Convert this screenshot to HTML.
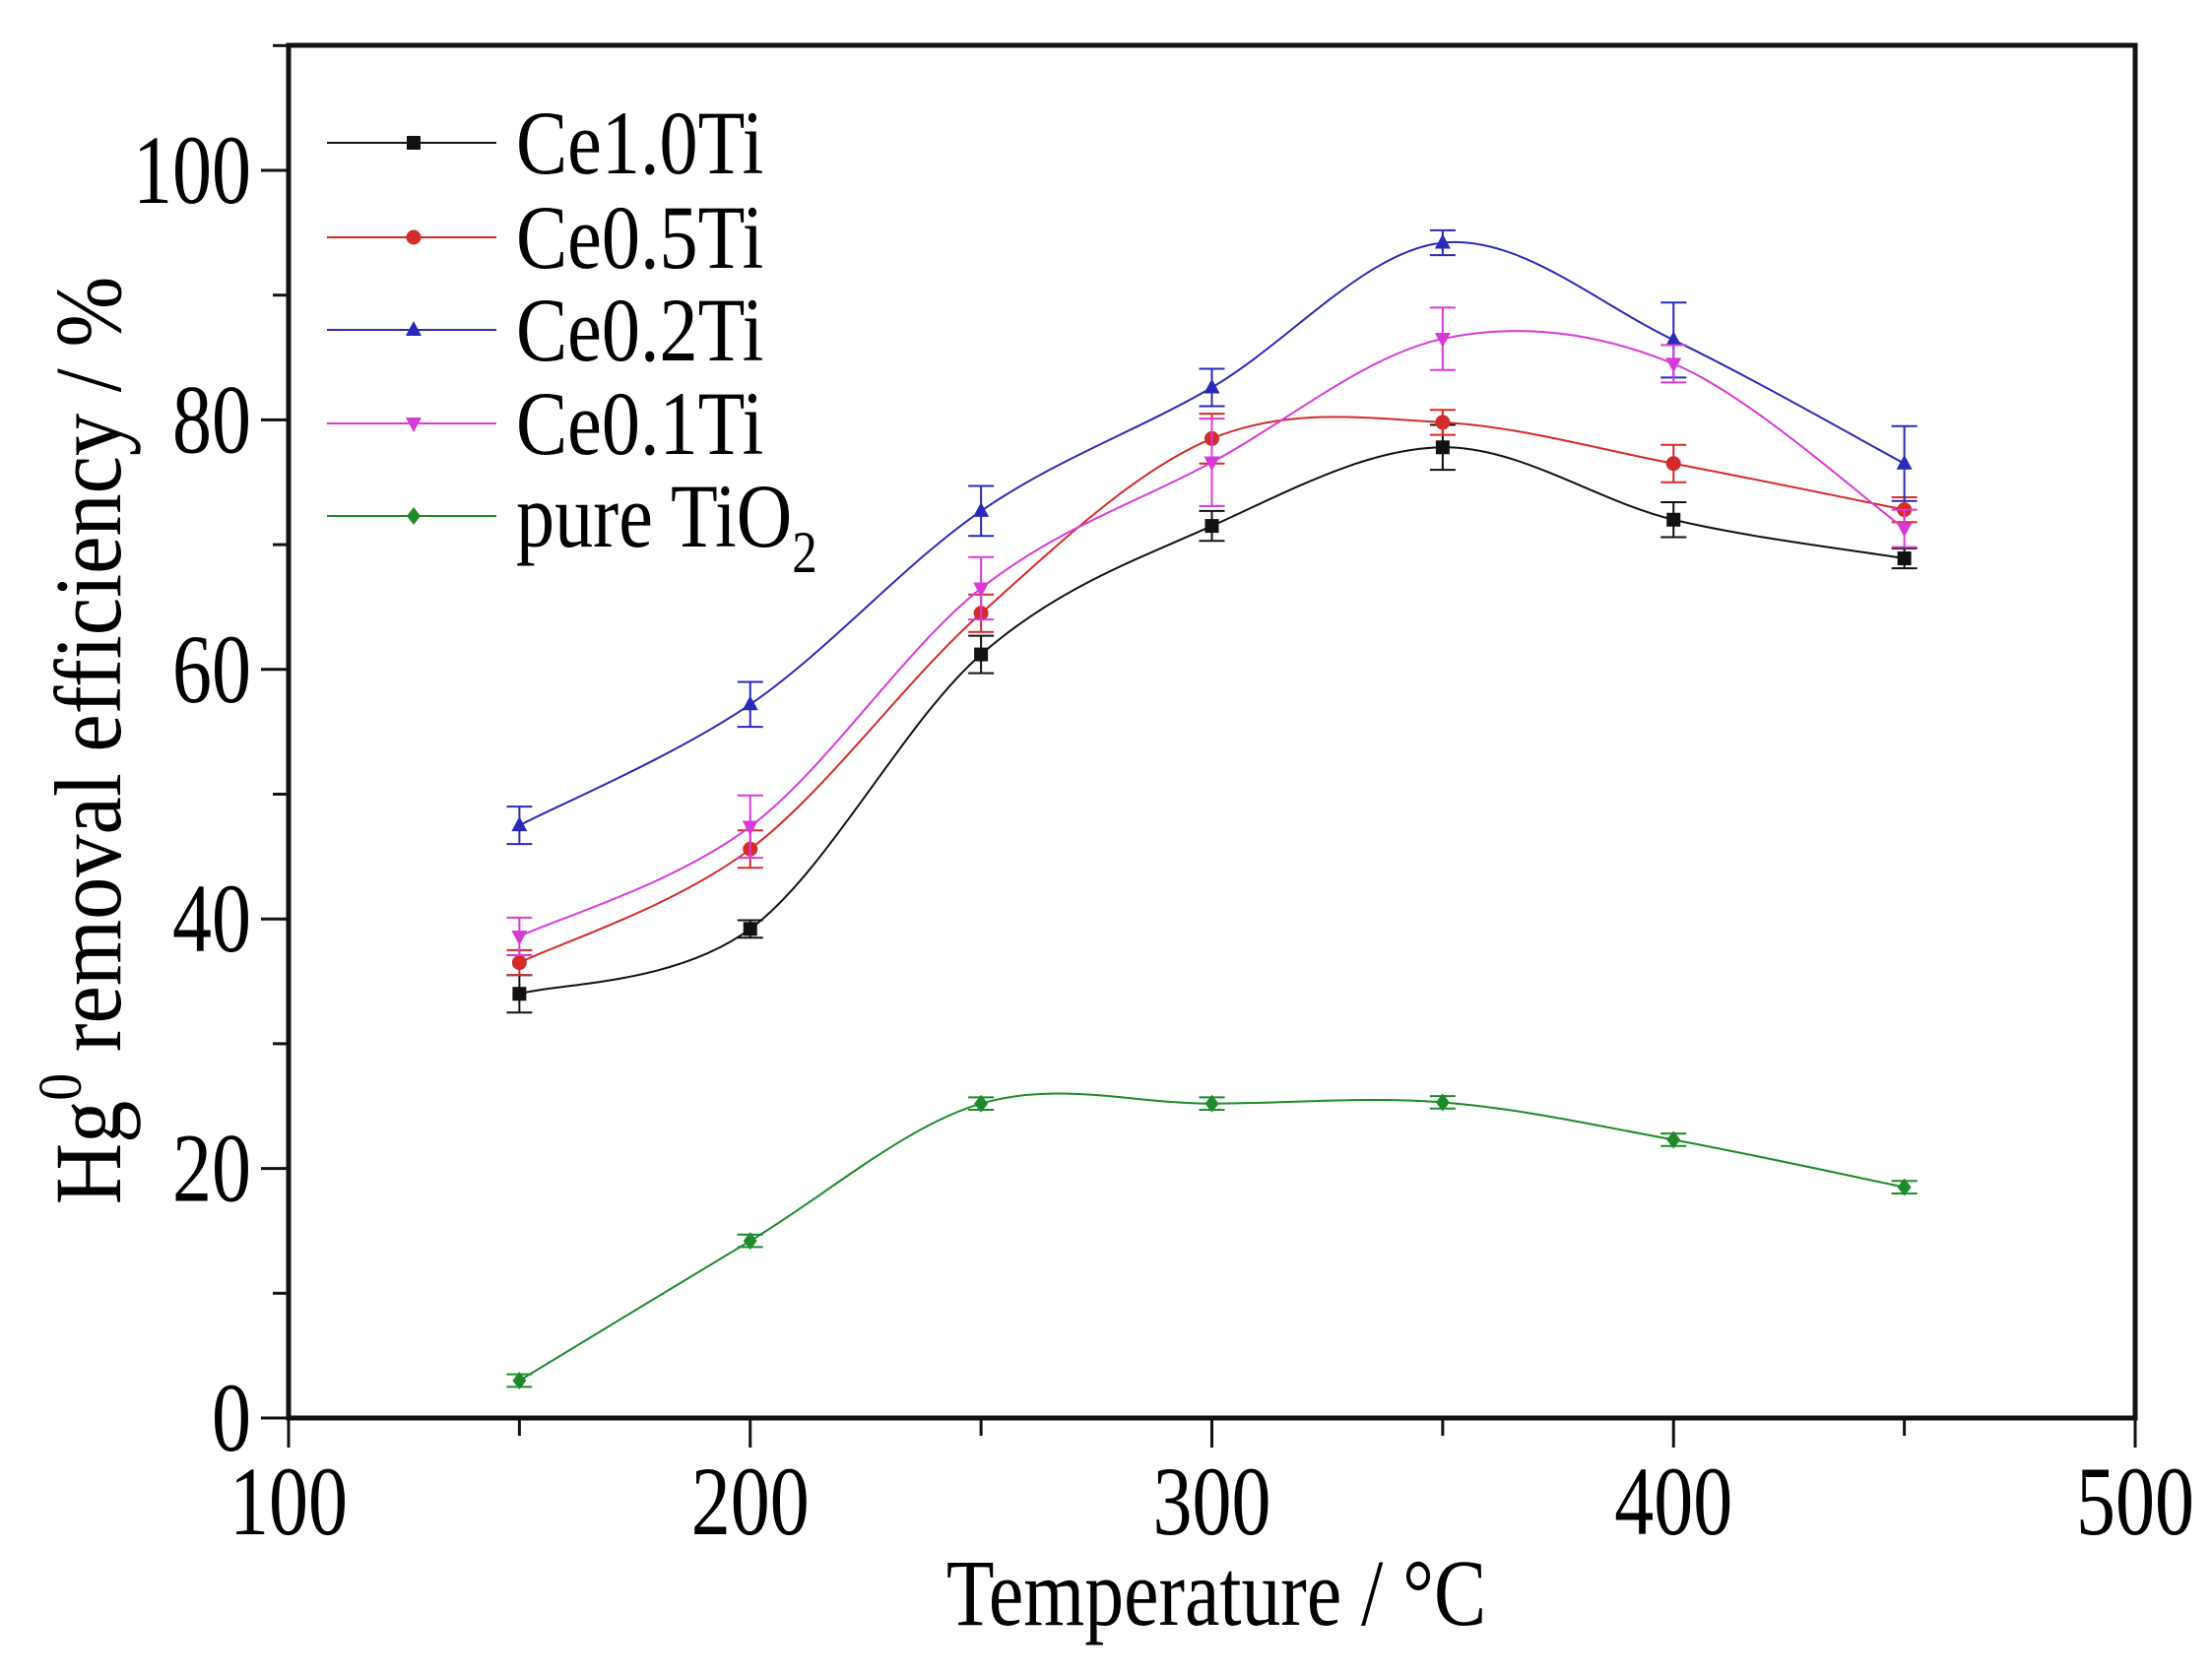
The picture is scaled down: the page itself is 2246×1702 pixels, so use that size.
<!DOCTYPE html>
<html><head><meta charset="utf-8"><style>
html,body{margin:0;padding:0;background:#fff;}
svg{display:block;font-family:"Liberation Serif",serif;}
</style></head><body>
<svg id="chart" width="2246" height="1702" viewBox="0 0 2246 1702">
<g id="plot"></g>
<g id="axes"></g>
<g id="legend"></g>
<text transform="translate(1235,1650) scale(0.83,1)" font-size="96" text-anchor="middle">Temperature / °C</text>
<text transform="translate(122,752) rotate(-90) scale(0.9,1)" font-size="96" text-anchor="middle">Hg<tspan dy="-40" font-size="62">0</tspan><tspan dy="40"> removal efficiency / %</tspan></text>
</svg>
<script>
const temps = [150,200,250,300,350,400,450];
const seriesNames = ["Ce1.0Ti","Ce0.5Ti","Ce0.2Ti","Ce0.1Ti","pure TiO2"];
const ce10 = [34.0,39.2,61.2,71.5,77.8,72.0,68.9];
const ce10Err = [1.5,0.7,1.5,1.2,1.8,1.4,0.8];
const ce05 = [36.5,45.6,64.5,78.5,79.8,76.5,72.8];
const ce05Err = [1.0,1.5,1.5,2.0,1.0,1.5,1.0];
const ce02 = [47.5,57.2,72.7,82.6,94.2,86.4,76.5];
const ce02Err = [1.5,1.8,2.0,1.5,1.0,3.0,3.0];
const ce01 = [38.6,47.4,66.5,76.6,86.5,84.5,71.3];
const ce01Err = [1.5,2.5,2.5,3.5,2.5,1.5,1.5];
const tio2 = [3.0,14.2,25.2,25.2,25.3,22.3,18.5];
const tio2Err = [0.5,0.5,0.5,0.5,0.5,0.5,0.5];
const xTicks = [100,200,300,400,500];
const yTicks = [0,20,40,60,80,100];

const NS="http://www.w3.org/2000/svg";
const X0=293,X1=2168,Y0=1440,YT=46;
const xs=v=>X0+(v-100)/400*(X1-X0);
const ys=v=>Y0-v*(Y0-173)/100;
function mk(tag,attrs,parent){const e=document.createElementNS(NS,tag);for(const k in attrs)e.setAttribute(k,attrs[k]);parent.appendChild(e);return e;}
const plot=document.getElementById('plot'),axes=document.getElementById('axes'),legend=document.getElementById('legend');

const colors=["#111111","#d42a2a","#2a2ab8","#d83ad8","#1e8a2a"];
const datasets=[ce10,ce05,ce02,ce01,tio2];
const errs=[ce10Err,ce05Err,ce02Err,ce01Err,tio2Err];
const shapes=["square","circle","up","down","diamond"];

function marker(shape,x,y,c,parent){
  let e;
  if(shape==="square") e=mk('rect',{x:x-7,y:y-7,width:14,height:14,fill:c},parent);
  else if(shape==="circle") e=mk('circle',{cx:x,cy:y,r:7.5,fill:c},parent);
  else if(shape==="up") e=mk('polygon',{points:`${x},${y-9} ${x-8},${y+6} ${x+8},${y+6}`,fill:c},parent);
  else if(shape==="down") e=mk('polygon',{points:`${x},${y+9} ${x-8},${y-6} ${x+8},${y-6}`,fill:c},parent);
  else e=mk('polygon',{points:`${x},${y-9} ${x+7},${y} ${x},${y+9} ${x-7},${y}`,fill:c},parent);
  return e;
}
function spline(pts){
  let d=`M${pts[0][0]},${pts[0][1]}`;
  for(let i=0;i<pts.length-1;i++){
    const p0=pts[Math.max(0,i-1)],p1=pts[i],p2=pts[i+1],p3=pts[Math.min(pts.length-1,i+2)];
    const c1=[p1[0]+(p2[0]-p0[0])/6,p1[1]+(p2[1]-p0[1])/6];
    const c2=[p2[0]-(p3[0]-p1[0])/6,p2[1]-(p3[1]-p1[1])/6];
    d+=` C${c1[0]},${c1[1]} ${c2[0]},${c2[1]} ${p2[0]},${p2[1]}`;
  }
  return d;
}
datasets.forEach((vals,si)=>{
  const c=colors[si];
  const g=mk('g',{},plot);
  
  
  const pts=temps.map((t,i)=>[xs(t),ys(vals[i])]);
  const line=mk('path',{d:spline(pts),fill:'none',stroke:c,'stroke-width':2},g);
  
  
  temps.forEach((t,i)=>{
    const x=xs(t),yt=ys(vals[i]+errs[si][i]),yb=ys(vals[i]-errs[si][i]);
    const eb=mk('path',{d:`M${x},${yt}V${yb}M${x-13},${yt}H${x+13}M${x-13},${yb}H${x+13}`,stroke:c,'stroke-width':2,fill:'none'},g);
    
    
    const m=marker(shapes[si],x,ys(vals[i]),c,g);
    
    
  });
});
const fr=mk('path',{d:`M${X0},${YT}H${X1}V${Y0}H${X0}Z`,fill:'none',stroke:'#111','stroke-width':5},axes);


for(let v=100;v<=500;v+=50){
  const major=v%100===0;
  const t=mk('line',{x1:xs(v),x2:xs(v),y1:Y0,y2:Y0+(major?30:18),stroke:'#111','stroke-width':3},axes);
  
  
}
xTicks.forEach(v=>{
  const t=mk('text',{transform:`translate(${xs(v)},1558) scale(0.8,1)`,'font-size':100,'text-anchor':'middle'},axes);t.textContent=v;
  
  
});
for(let v=0;v<=110;v+=10){
  const major=v%20===0;
  const t=mk('line',{x1:X0,x2:X0-(major?28:16),y1:ys(v),y2:ys(v),stroke:'#111','stroke-width':3},axes);
  
  
}
yTicks.forEach(v=>{
  const t=mk('text',{transform:`translate(255,${ys(v)+33}) scale(0.8,1)`,'font-size':100,'text-anchor':'end'},axes);t.textContent=v;
  
  
});
const ly=[145,241,335,430,524];
seriesNames.forEach((n,i)=>{
  const g=mk('g',{},legend);
  
  
  mk('line',{x1:332,x2:504,y1:ly[i],y2:ly[i],stroke:colors[i],'stroke-width':2},g);
  marker(shapes[i],420,ly[i],colors[i],g);
  const t=mk('text',{transform:`translate(524,${ly[i]+31}) scale(0.85,1)`,'font-size':92},g);
  if(i===4){t.textContent='pure TiO';const s=mk('tspan',{dy:26,'font-size':60},t);s.textContent='2';}
  else t.textContent=n;
});
</script>
</body></html>
